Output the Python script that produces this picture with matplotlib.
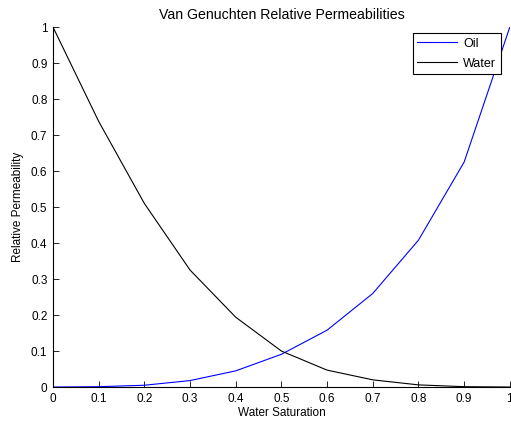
import matplotlib
matplotlib.use('Agg')
import matplotlib.pyplot as plt
from matplotlib.ticker import FuncFormatter

plt.rcParams['font.family'] = ['Liberation Sans', 'DejaVu Sans']
plt.rcParams['font.size'] = 8.5

saturation = [0, 0.1, 0.2, 0.3, 0.4, 0.5, 0.6, 0.7, 0.8, 0.9, 1.0]
oil = [0, 0.001, 0.005, 0.018, 0.045, 0.091, 0.158, 0.26, 0.408, 0.625, 1.0]
water = [1.0, 0.738, 0.51, 0.325, 0.194, 0.10, 0.047, 0.02, 0.006, 0.001, 0]
ticks = [0, 0.1, 0.2, 0.3, 0.4, 0.5, 0.6, 0.7, 0.8, 0.9, 1.0]

fig = plt.figure(figsize=(5.11, 4.23), dpi=100)
ax = fig.add_axes([0.1037, 0.085, 0.894, 0.851])

ax.plot(saturation, oil, color='#0000ff', lw=0.8, label='Oil')
ax.plot(saturation, water, color='black', lw=0.8, label='Water')

ax.set_xlim(0, 1)
ax.set_ylim(0, 1)
ax.set_xticks(ticks)
ax.set_yticks(ticks)
fmt = FuncFormatter(lambda v, p: '%g' % round(v, 2))
ax.xaxis.set_major_formatter(fmt)
ax.yaxis.set_major_formatter(fmt)
ax.tick_params(direction='in', length=4, width=0.6, pad=4)
ax.spines['top'].set_visible(False)
ax.spines['right'].set_visible(False)
ax.spines['left'].set_linewidth(0.8)
ax.spines['bottom'].set_linewidth(0.8)

ax.set_xlabel('Water Saturation', labelpad=2)
ax.set_ylabel('Relative Permeability', labelpad=5)
ax.set_title('Van Genuchten Relative Permeabilities', pad=6)

leg = ax.legend(loc='upper right', bbox_to_anchor=(0.98, 0.983), fancybox=False,
                framealpha=1, edgecolor='black', borderpad=0.35, handlelength=3.2,
                labelspacing=0.65, borderaxespad=0, handletextpad=0.5, fontsize=9)
leg.get_frame().set_linewidth(0.8)

fig.savefig('out.png', dpi=100)
